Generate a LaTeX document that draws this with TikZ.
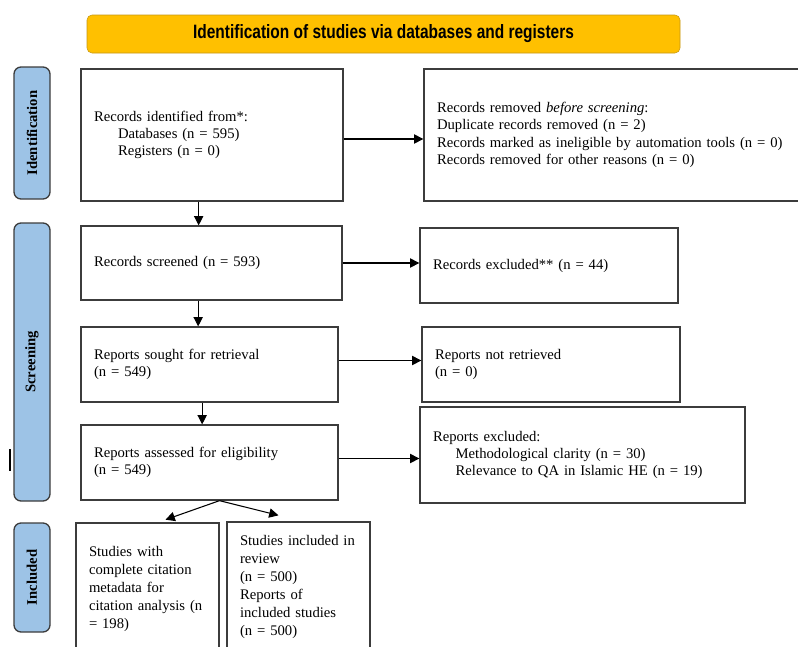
\documentclass[tikz,border=0pt]{standalone}
\usepackage{fontspec}
\setmainfont{Liberation Serif}
\newfontfamily\bannerfont{Liberation Sans}[FakeStretch=0.8]
\usepackage{tikz}
\usetikzlibrary{arrows.meta,positioning}
\definecolor{prismaYellow}{RGB}{255,192,0}
\definecolor{prismaYellowLine}{RGB}{196,150,20}
\definecolor{prismaBlue}{RGB}{157,195,230}
\definecolor{boxLine}{RGB}{60,60,60}
\newlength\px
\setlength\px{0.75pt}
\tikzset{
  recbox/.style={draw=boxLine, line width=1.3\px, fill=white, inner xsep=13\px, inner ysep=2\px,
    align=left, font=\fontsize{11}{13}\selectfont},
  incbox/.style={recbox, font=\fontsize{11}{13.6}\selectfont},
  phase/.style={draw=boxLine, line width=1.3\px, fill=prismaBlue, rounded corners=7\px, rotate=90,
    minimum height=36\px, inner sep=0pt, font=\fontsize{11}{13}\selectfont\bfseries},
  flow/.style={-{Triangle[length=7pt,width=7pt]}, line width=0.8pt, black},
}

\begin{document}
\begin{tikzpicture}[x=0.75pt,y=-0.75pt]
\useasboundingbox (0,0) rectangle (798,646);

% banner
\node[draw=prismaYellowLine, fill=prismaYellow, rounded corners=5\px, minimum width=593\px, minimum height=38\px,
  font=\bannerfont\bfseries\fontsize{14.5}{16}\selectfont] (banner) at (383.5,34)
  {Identification of studies via databases and registers};

% phase tabs
\node[phase, minimum width=132\px] (tabIdent) at (32,133) {Identification};
\node[phase, minimum width=278\px] (tabScreen) at (32,362) {Screening};
\node[phase, minimum width=109\px] (tabIncl) at (32,577.5) {Included};
\draw[line width=1.3\px] (10,449) -- (10,471);

% identification
\node[recbox, text width=236\px, minimum height=132\px] (ident) at (212,135)
  {Records identified from*:\\ \hspace*{18pt}Databases (n = 595)\\ \hspace*{18pt}Registers (n = 0)};
\node[recbox, text width=380\px, minimum height=132\px] (removed) at (627,135)
  {Records removed \textit{before screening}:\\ Duplicate records removed (n = 2)\\
   Records marked as ineligible by automation tools (n = 0)\\ Records removed for other reasons (n = 0)};

% screening
\node[recbox, text width=235\px, minimum height=74\px] (screened) at (211.5,263) {Records screened (n = 593)};
\node[recbox, text width=232\px, minimum height=75\px] (excluded) at (549,265.5) {Records excluded** (n = 44)};
\node[recbox, text width=231\px, minimum height=75\px] (sought) at (209.5,364.5) {Reports sought for retrieval\\ (n = 549)};
\node[recbox, text width=232\px, minimum height=75\px] (notret) at (551,364.5) {Reports not retrieved\\ (n = 0)};
\node[recbox, text width=231\px, minimum height=75\px] (assessed) at (209.5,462.5) {Reports assessed for eligibility\\ (n = 549)};
\node[recbox, text width=299\px, minimum height=96\px] (repexcl) at (582.5,455)
  {Reports excluded:\\ \hspace*{17pt}Methodological clarity (n = 30)\\ \hspace*{17pt}Relevance to QA in Islamic HE (n = 19)};

% included
\node[incbox, text width=117\px, minimum height=132\px] (cited) at (147.5,589)
  {Studies with\\ complete citation\\ metadata for\\ citation analysis (n\\ = 198)};
\node[incbox, text width=117\px, minimum height=130\px] (included) at (298.5,587)
  {Studies included in\\ review\\ (n = 500)\\ Reports of\\ included studies\\ (n = 500)};

% connectors
\draw[flow] ([yshift=-3pt]ident.east) -- ([yshift=-3pt]removed.west);
\draw[flow] ([xshift=-10pt]ident.south) -- ([xshift=-10pt]ident.south |- screened.north);
\draw[flow] (screened.east) -- (screened.east -| excluded.west);
\draw[flow] ([xshift=-10pt]screened.south) -- ([xshift=-10pt]screened.south |- sought.north);
\draw[flow] ([yshift=3pt]sought.east) -- ([yshift=3pt]notret.west);
\draw[flow] ([xshift=-5.5pt]sought.south) -- ([xshift=-5.5pt]sought.south |- assessed.north);
\draw[flow] ([yshift=3pt]assessed.east) -- ([yshift=3pt]assessed.east -| repexcl.west);
\coordinate (split) at ([xshift=7.5pt]assessed.south);
\coordinate (tipL) at ([xshift=13.5pt,yshift=2pt]cited.north);
\coordinate (tipR) at ([xshift=-15pt,yshift=4.5pt]included.north);
\draw[flow] (split) -- (tipL);
\draw[flow] (split) -- (tipR);
\end{tikzpicture}
\end{document}
